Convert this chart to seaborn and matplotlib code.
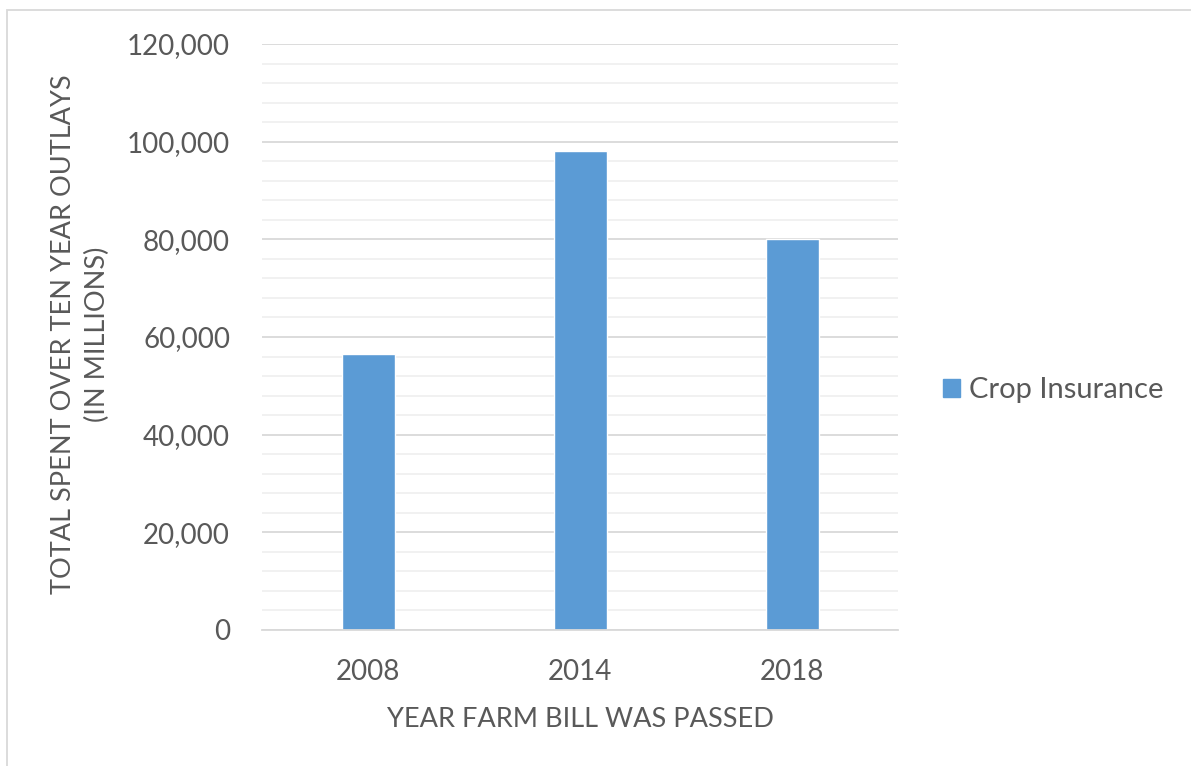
import matplotlib
matplotlib.use("Agg")
import matplotlib.pyplot as plt
import matplotlib.patches as mpatches
from matplotlib.ticker import FuncFormatter, MultipleLocator
import seaborn as sns
import pandas as pd

years = ["2008", "2014", "2018"]
crop_insurance = [56500, 98000, 80000]
series_name = "Crop Insurance"

sns.set_style("white")
plt.rcParams["font.family"] = ["Lato", "DejaVu Sans"]

text_color = "#595959"
bar_color = "#5B9BD5"

df = pd.DataFrame({"year": years, "value": crop_insurance, "series": series_name})

fig = plt.figure(figsize=(11.91, 7.66), dpi=100)
ax = fig.add_axes([262 / 1191, 1 - 630 / 766, (898 - 262) / 1191, (630 - 44) / 766])

sns.barplot(data=df, x="year", y="value", hue="series", palette=[bar_color],
            width=0.25, ax=ax, saturation=1, legend=False)

ax.set_ylim(0, 120000)
ax.set_xlim(-0.5, 2.5)
ax.yaxis.set_major_locator(MultipleLocator(20000))
ax.yaxis.set_minor_locator(MultipleLocator(4000))
ax.yaxis.set_major_formatter(FuncFormatter(lambda v, p: f"{int(v):,}"))
ax.grid(axis="y", which="major", color="#d9d9d9", linewidth=1.3)
ax.grid(axis="y", which="minor", color="#f0f0f0", linewidth=1.3)
ax.set_axisbelow(True)
for s in ["top", "right", "left"]:
    ax.spines[s].set_visible(False)
ax.spines["bottom"].set_color("#d9d9d9")
ax.spines["bottom"].set_linewidth(1.3)
ax.tick_params(axis="both", which="both", length=0, labelsize=20, colors=text_color)
ax.tick_params(axis="y", pad=23)
ax.tick_params(axis="x", pad=21)

ax.set_xlabel("YEAR FARM BILL WAS PASSED", fontsize=19.5, color=text_color, labelpad=16)
ax.set_ylabel("TOTAL SPENT OVER TEN YEAR OUTLAYS\n(IN MILLIONS)", fontsize=19.5,
              color=text_color, linespacing=1.45)
ax.yaxis.set_label_coords((110 - 262) / 636, (630 - 334) / 586)

handle = mpatches.Patch(color=bar_color, label=series_name)
fig.legend(handles=[handle], loc="center left", bbox_to_anchor=(917 / 1191, 1 - 390 / 766),
           frameon=False, fontsize=21, labelcolor=text_color, handlelength=0.58,
           handleheight=0.58, handletextpad=0.31)

# chart frame
fig.add_artist(mpatches.Rectangle((6.5 / 1191, -0.05), 1.2, 1 - 9.5 / 766 + 0.05,
                                  transform=fig.transFigure, fill=False,
                                  edgecolor="#d9d9d9", linewidth=1.3))

fig.savefig("out.png", dpi=100)
